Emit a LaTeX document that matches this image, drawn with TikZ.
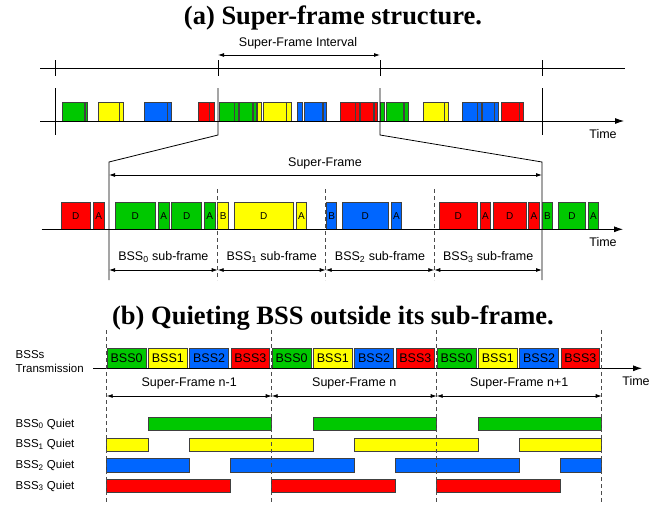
\documentclass[tikz,border=0pt]{standalone}
\usepackage{fontspec}
\setmainfont{Liberation Sans}
\newfontfamily\titlefont{Liberation Serif}
\usetikzlibrary{arrows.meta}
\definecolor{bss0}{RGB}{0,200,0}
\definecolor{bss1}{RGB}{255,255,0}
\definecolor{bss2}{RGB}{0,102,255}
\definecolor{bss3}{RGB}{255,0,0}

\begin{document}
\begin{tikzpicture}[x=1pt,y=-1pt,line width=.8pt,
                    font=\fontsize{12.5}{14}\selectfont,
                    ttl/.style={font=\titlefont\bfseries\fontsize{26.5}{30}\selectfont},
                    lbl/.style={font=\fontsize{11.5}{14}\selectfont},
                    dim/.style={{Latex[length=6pt,width=4pt]}-{Latex[length=6pt,width=4pt]}},
                    axis/.style={-{Latex[length=9pt,width=6pt]}},
                    blk/.style={draw=black!75,line width=.7pt},
                    sep/.style={black!70,dash pattern=on 4pt off 3pt}]
                    \useasboundingbox(0,0)rectangle(667,506);
                    % (a) super-frame structure
                    \node[ttl](ta)at(333,18){(a) Super-frame structure.};
                    \coordinate(L1)at(40,68);
                    \coordinate(R1)at(625,68);
                    \draw(L1)--(R1);
                    \foreach \x in {55,218,380,542}\draw(\x,60)--(\x,76);
                    \coordinate(I1)at(218,55);
                    \coordinate(I2)at(380,55);
                    \draw[dim](I1)--(I2);
                    \node(int)at(298,43){Super-Frame Interval};
                    \foreach \a/\b/\c in {62/84/0,85/87.7/0,98.5/119.5/1,119.7/123/1,144.3/167/2,167.5/171.7/2,
                        198.3/209.3/3,209.7/214.5/3,219.3/234/0,234.3/238.3/0,239.3/252.7/0,253.3/256.7/0,
                        257/261.7/1,263.3/286/1,286.7/291/1,297.7/302.3/2,304/322.7/2,323.3/326.7/2,
                        340/355/3,355.7/359/3,360/373.3/3,374/377.3/3,380/384.7/0,386/403.3/0,404/408.7/0,
                        423.3/444/1,444.7/448.7/1,462.7/477.3/2,477.7/481/2,482/494/2,494.7/498.3/2,
                        501.7/519/3,519.7/523.7/3}
                        \draw[blk,fill=bss\c](\a,102)rectangle(\b,121);
                    \coordinate(L2)at(40,121);
                    \coordinate(R2)at(624,121);
                    \draw[axis](L2)--(R2);
                    \node(time1)at(603,134){Time};
                    \draw(55,88)--(55,135);
                    \draw(542,88)--(542,135);
                    \coordinate(P1)at(218,88);
                    \coordinate(P2)at(218,135);
                    \coordinate(P3)at(109,162);
                    \coordinate(P4)at(109,280);
                    \coordinate(Q1)at(380,88);
                    \coordinate(Q2)at(380,135);
                    \coordinate(Q3)at(542,162);
                    \coordinate(Q4)at(542,280);
                    \draw(P1)--(P2)--(P3)--(P4);
                    \draw(Q1)--(Q2)--(Q3)--(Q4);
                    % zoom on one super-frame
                    \coordinate(S1)at(109,175);
                    \coordinate(S2)at(542,175);
                    \draw[dim](S1)--(S2);
                    \node(sf)at(325,163){Super-Frame};
                    \foreach \a/\b/\c/\t in {61/90.7/3/D,93.3/104/3/A,115/155.7/0/D,158.3/169/0/A,171.7/201.7/0/D,
                        204.3/215/0/A,217.7/228.7/1/B,234/293.3/1/D,296/306.7/1/A,326.7/336.7/2/B,342.3/388.3/2/D,
                        391/401.7/2/A,439.3/477.3/3/D,480/490.7/3/A,493.3/526/3/D,528.7/539.3/3/A,542.3/552.7/0/B,
                        558.7/585.3/0/D,588.3/598.7/0/A}
                        \draw[blk,fill=bss\c](\a,202.3)rectangle(\b,229.3)node[midway,font=\fontsize{10}{12}\selectfont]{\t};
                    \coordinate(L3)at(41.7,229.3);
                    \coordinate(R3)at(623,229.3);
                    \draw[axis](L3)--(R3);
                    \node(time2)at(603,242){Time};
                    \foreach \x in {217.7,325.7,434.3}\draw[sep](\x,189)--(\x,280);
                    \foreach \a/\b/\i in {109/217.7/0,217.7/325.7/1,325.7/434.3/2,434.3/542/3}{
                        \draw[dim](\a,270)--(\b,270);
                        \node(sub\i)at({(\a+\b)/2},257){BSS\textsubscript{\i} sub-frame};}
                    % (b) quiet periods
                    \node[ttl](tb)at(333,318){(b) Quieting BSS outside its sub-frame.};
                    \node[lbl,align=left,anchor=west](tx)at(12,362){BSSs\\Transmission};
                    \foreach \k in {0,...,11}{
                        \pgfmathtruncatemacro\m{mod(\k,4)}
                        \draw[blk,fill=bss\m]({107.2+41.25*\k},348.3)rectangle({106.7+41.25*\k+39.3},368.3)node[midway]{BSS\m};}
                    \coordinate(L4)at(93,368.3);
                    \coordinate(R4)at(642,368.3);
                    \draw[axis](L4)--(R4);
                    \node(time3)at(636,381){Time};
                    \foreach \r/\a/\b in {0/1/4,0/5/8,0/9/12,1/0/1,1/2/5,1/6/9,1/10/12,2/0/2,2/3/6,2/7/10,2/11/12,3/0/3,3/4/7,3/8/11}
                        \draw[blk,fill=bss\r]({106.7+41.25*\a},{417.3+20.67*\r})rectangle({106.7+41.25*\b},{430.6+20.67*\r});
                    \foreach \r in {0,...,3}
                        \node[lbl,anchor=west](q\r)at(12,{424+20.67*\r}){BSS\textsubscript{\r} Quiet};
                    \foreach \x in {106.7,271.7,436.7,601.7}\draw[sep](\x,330)--(\x,503);
                    \foreach \a/\b/\t in {106.7/271.7/n-1,271.7/436.7/n,436.7/601.7/n+1}{
                        \draw[dim](\a,396)--(\b,396);
                        \node(sfn\t)at({(\a+\b)/2},383){Super-Frame \t};}
                \end{tikzpicture}
\end{document}
